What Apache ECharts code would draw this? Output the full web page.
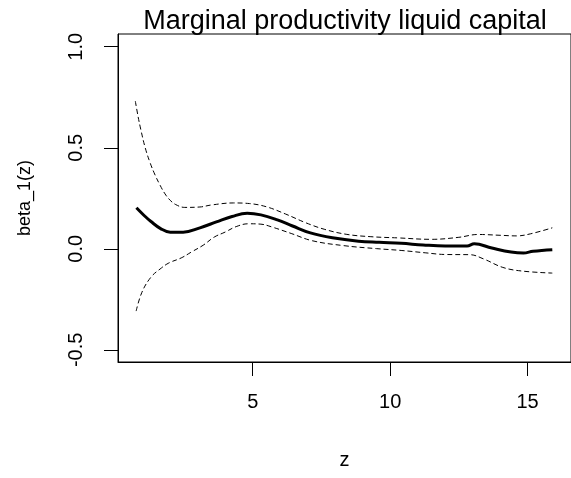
<!DOCTYPE html>
<html>
<head>
<meta charset="utf-8">
<title>Marginal productivity liquid capital</title>
<script src="https://cdn.jsdelivr.net/npm/echarts@6/dist/echarts.min.js"></script>
<style>
  html, body { margin: 0; padding: 0; background: #fff; }
  #ech { width: 571px; height: 478px; }
</style>
</head>
<body>
<div id="ech"></div>
<script>
// estimate of beta_1(z)
var zMid = [0.77, 1.05, 1.30, 1.65, 2.0, 2.47, 3.08, 3.68, 4.25, 4.8, 5.3, 5.9, 6.45, 7.1, 7.9, 8.85, 9.6, 10.4, 11.2, 12.0, 12.8, 13.06, 13.7, 14.4, 14.85, 15.2, 15.9];
var betaMid = [0.203, 0.165, 0.135, 0.100, 0.082, 0.082, 0.104, 0.133, 0.160, 0.176, 0.168, 0.143, 0.113, 0.079, 0.055, 0.038, 0.032, 0.027, 0.019, 0.014, 0.014, 0.025, 0.004, -0.016, -0.021, -0.012, -0.004];

// upper band
var zUp = [0.73, 0.83, 0.93, 1.09, 1.27, 1.45, 1.63, 1.81, 2.0, 2.2, 2.53, 3.08, 3.5, 4.3, 4.88, 5.5, 6.2, 6.93, 7.6, 8.4, 9.3, 10.3, 11.5, 12.5, 13.2, 14.0, 14.6, 15.1, 15.9];
var betaUp = [0.731, 0.655, 0.590, 0.500, 0.425, 0.365, 0.315, 0.272, 0.240, 0.219, 0.205, 0.207, 0.217, 0.227, 0.224, 0.208, 0.172, 0.129, 0.097, 0.072, 0.060, 0.054, 0.047, 0.057, 0.071, 0.067, 0.064, 0.074, 0.104];

// lower band
var zLow = [0.76, 0.97, 1.3, 1.63, 1.95, 2.4, 2.78, 3.2, 3.6, 4.0, 4.4, 4.85, 5.3, 5.7, 6.4, 7.17, 8.3, 9.5, 10.4, 11.3, 12.0, 12.9, 13.4, 14.1, 14.8, 15.9];
var betaLow = [-0.308, -0.215, -0.140, -0.100, -0.070, -0.045, -0.015, 0.018, 0.058, 0.083, 0.110, 0.124, 0.122, 0.108, 0.076, 0.040, 0.016, 0.001, -0.008, -0.020, -0.028, -0.029, -0.050, -0.092, -0.110, -0.120];

var xTicks = [5, 10, 15];
var yTicks = [-0.5, 0, 0.5, 1];

function pairs(xs, ys) {
  var out = [];
  for (var i = 0; i < xs.length; i++) out.push([xs[i], ys[i]]);
  return out;
}

var myChart = echarts.init(document.getElementById("ech"));
var font = "Liberation Sans, Arial, sans-serif";

var option = {
  animation: false,
  title: {
    text: "Marginal productivity liquid capital",
    left: 340,
    textAlign: "center",
    top: 3,
    textStyle: { fontFamily: font, fontSize: 27, fontWeight: "normal", color: "#000" }
  },
  grid: {
    left: 118,
    right: -2,
    top: 34,
    bottom: 116,
    show: true,
    borderColor: "#000",
    borderWidth: 1
  },
  xAxis: {
    type: "value",
    min: 0.1,
    max: 16.58,
    name: "z",
    nameLocation: "middle",
    nameGap: 88,
    nameTextStyle: { fontFamily: font, fontSize: 20, color: "#000" },
    axisLine: { show: true, onZero: false, lineStyle: { color: "#000" } },
    axisTick: { show: true, length: 14, customValues: xTicks, lineStyle: { color: "#000" } },
    axisLabel: { customValues: xTicks, margin: 30, fontFamily: font, fontSize: 20, color: "#000" },
    splitLine: { show: false }
  },
  yAxis: {
    type: "value",
    min: -0.56,
    max: 1.063,
    name: "beta_1(z)",
    nameLocation: "middle",
    nameRotate: 90,
    nameGap: 84,
    nameTextStyle: { fontFamily: font, fontSize: 18, color: "#000" },
    axisLine: { show: true, onZero: false, lineStyle: { color: "#000" } },
    axisTick: { show: true, length: 14, customValues: yTicks, lineStyle: { color: "#000" } },
    axisLabel: {
      customValues: yTicks,
      rotate: 90,
      margin: 32,
      fontFamily: font,
      fontSize: 20,
      color: "#000",
      formatter: function (v) { return v.toFixed(1); }
    },
    splitLine: { show: false }
  },
  series: [
    {
      type: "line",
      data: pairs(zUp, betaUp),
      smooth: 0.4,
      showSymbol: false,
      lineStyle: { color: "#000", width: 1, type: [5, 3] }
    },
    {
      type: "line",
      data: pairs(zLow, betaLow),
      smooth: 0.4,
      showSymbol: false,
      lineStyle: { color: "#000", width: 1, type: [5, 3] }
    },
    {
      type: "line",
      data: pairs(zMid, betaMid),
      smooth: 0.4,
      showSymbol: false,
      lineStyle: { color: "#000", width: 3 }
    }
  ]
};

myChart.setOption(option);
</script>
</body>
</html>
